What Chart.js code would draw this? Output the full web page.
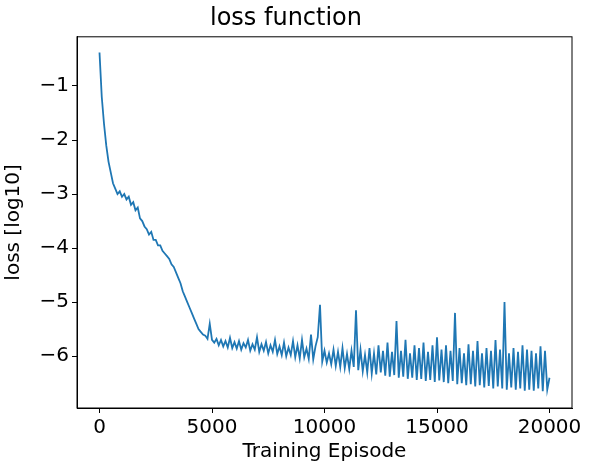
<!DOCTYPE html>
<html>
<head>
<meta charset="utf-8">
<script src="https://cdn.jsdelivr.net/npm/chart.js@4"></script>
<style>
  html, body { margin: 0; padding: 0; background: #fff; }
  #wrap { width: 592px; height: 472px; }
</style>
</head>
<body>
<div id="wrap"><canvas id="c"></canvas></div>
<script>
// loss values, one per 100 episodes
const episodeStep = 100;
const lossLog10 = [
  -0.38, -1.20, -1.70, -2.10, -2.40, -2.60, -2.80, -2.90, -3.00, -2.95,
  -3.05, -3.00, -3.10, -3.05, -3.20, -3.15, -3.30, -3.25, -3.45, -3.50,
  -3.60, -3.65, -3.75, -3.70, -3.85, -3.85, -3.95, -3.95, -4.05, -4.10,
  -4.15, -4.20, -4.30, -4.35, -4.45, -4.55, -4.65, -4.80, -4.90, -5.00,
  -5.10, -5.20, -5.30, -5.40, -5.50, -5.55, -5.60, -5.62, -5.68, -5.40,
  -5.70, -5.75, -5.68, -5.80, -5.70, -5.82, -5.72, -5.84, -5.66, -5.85,
  -5.74, -5.86, -5.72, -5.88, -5.76, -5.84, -5.70, -5.90, -5.78, -5.88,
  -5.65, -5.92, -5.78, -5.90, -5.74, -5.95, -5.80, -5.92, -5.70, -5.96,
  -5.82, -5.98, -5.75, -6.00, -5.84, -5.98, -5.72, -6.02, -5.80, -6.04,
  -5.70, -6.02, -5.86, -6.05, -5.60, -6.06, -5.82, -5.65, -5.05, -6.10,
  -5.90, -6.12, -5.95, -6.15, -5.88, -6.18, -5.92, -6.20, -5.85, -6.22,
  -5.96, -6.24, -5.90, -6.20, -5.15, -6.26, -5.88, -6.28, -5.98, -6.30,
  -5.85, -6.32, -5.95, -6.34, -5.80, -6.30, -5.90, -6.36, -5.75, -6.38,
  -5.92, -6.35, -5.35, -6.40, -5.90, -6.38, -5.70, -6.42, -5.95, -6.40,
  -5.80, -6.44, -5.85, -6.42, -5.75, -6.46, -5.92, -6.44, -5.80, -6.48,
  -5.65, -6.45, -5.88, -6.48, -5.80, -6.50, -5.90, -6.46, -5.20, -6.52,
  -5.85, -6.50, -5.95, -6.54, -5.78, -6.52, -5.90, -6.56, -5.72, -6.54,
  -5.95, -6.58, -5.85, -6.55, -5.90, -6.60, -5.70, -6.56, -5.88, -6.60,
  -5.00, -6.62, -5.95, -6.58, -5.85, -6.62, -5.92, -6.60, -5.80, -6.64,
  -5.88, -6.62, -5.90, -6.64, -5.95, -6.60, -5.82, -6.65, -5.90, -6.62,
  -6.40
];
const xTicks = [0, 5000, 10000, 15000, 20000];
const yTicks = [-6, -5, -4, -3, -2, -1];

const points = lossLog10.map((v, i) => ({ x: i * episodeStep, y: v }));
const font = { family: 'DejaVu Sans', size: 20 };
const axisLine = { display: true, drawOnChartArea: false, color: '#000', tickLength: 5, tickWidth: 1 };

// full frame around the plot area
const frame = {
  id: 'frame',
  afterDraw(chart) {
    const { ctx, chartArea: a } = chart;
    ctx.save();
    ctx.strokeStyle = '#000';
    ctx.lineWidth = 1;
    ctx.strokeRect(a.left, a.top, a.right - a.left, a.bottom - a.top);
    ctx.restore();
  }
};

new Chart(document.getElementById('c'), {
  type: 'line',
  data: {
    datasets: [{
      data: points,
      borderColor: '#1f77b4',
      borderWidth: 1.8,
      pointRadius: 0,
      tension: 0
    }]
  },
  options: {
    animation: false,
    responsive: true,
    maintainAspectRatio: false,
    layout: { padding: { left: 0, right: 20, top: 0, bottom: 8 } },
    plugins: {
      legend: { display: false },
      tooltip: { enabled: false },
      title: {
        display: true, text: 'loss function', color: '#000',
        font: { family: 'DejaVu Sans', size: 24, weight: 'normal' },
        padding: { top: 4, bottom: 4 }
      }
    },
    scales: {
      x: {
        type: 'linear', min: -1000, max: 21000,
        afterBuildTicks: s => { s.ticks = xTicks.map(v => ({ value: v })); },
        afterFit: s => { s.height = 56; },
        grid: axisLine,
        border: { display: true, color: '#000' },
        ticks: { color: '#000', font, maxRotation: 0, padding: 3, callback: v => String(v) },
        title: { display: true, text: 'Training Episode', color: '#000', font, padding: 0 }
      },
      y: {
        type: 'linear', min: -6.96, max: -0.09,
        afterBuildTicks: s => { s.ticks = yTicks.map(v => ({ value: v })); },
        afterFit: s => { s.width = 77; },
        grid: axisLine,
        border: { display: true, color: '#000' },
        ticks: { color: '#000', font, padding: 3, callback: v => String(v).replace('-', '\u2212') },
        title: { display: true, text: 'loss [log10]', color: '#000', font, padding: 2 }
      }
    }
  },
  plugins: [frame]
});
</script>
</body>
</html>
